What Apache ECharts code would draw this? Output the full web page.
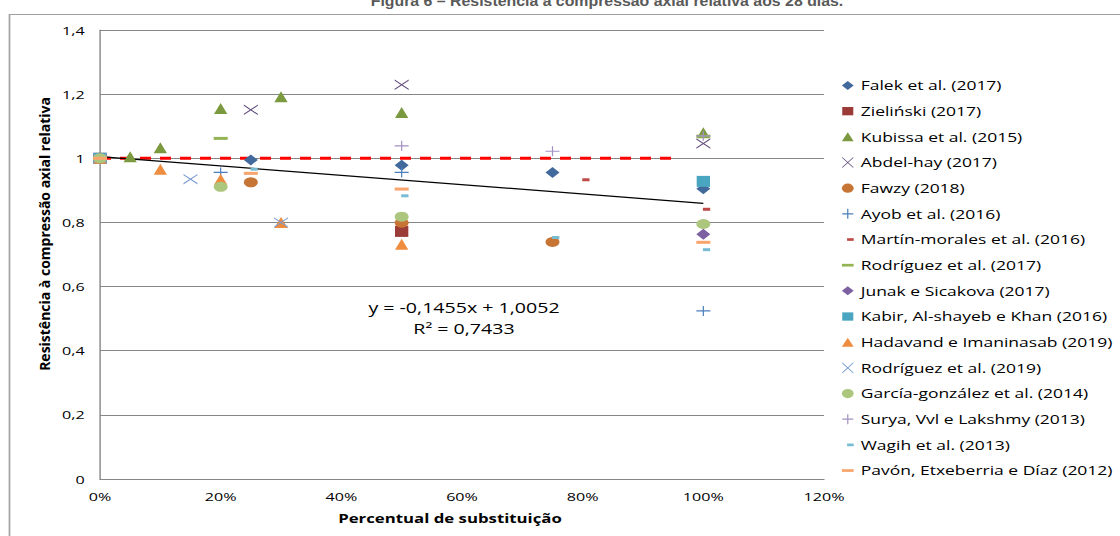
<!DOCTYPE html>
<html>
<head>
<meta charset="utf-8">
<script src="https://cdn.jsdelivr.net/npm/echarts@6/dist/echarts.min.js"></script>
<style>
html,body{margin:0;padding:0;background:#fff;overflow:hidden;width:1120px;height:536px;}
#chart{width:800px;height:536px;transform:scaleX(1.4);transform-origin:0 0;}
</style>
</head>
<body>
<div id="chart"></div>
<script>
// ---- Data (x = fraction of substitution, y = relative axial compressive strength) ----
const xTicks = [0, 0.2, 0.4, 0.6, 0.8, 1.0, 1.2];
const yTicks = [0, 0.2, 0.4, 0.6, 0.8, 1.0, 1.2, 1.4];

const falek      = [[0,1.0],[0.25,0.995],[0.5,0.978],[0.75,0.956],[1.0,0.905]];
const zielinski  = [[0,1.0],[0.5,0.772]];
const kubissa    = [[0,1.0],[0.05,1.005],[0.10,1.033],[0.20,1.155],[0.30,1.192],[0.5,1.143],[1.0,1.08]];
const abdelhay   = [[0,1.0],[0.25,1.151],[0.5,1.229],[1.0,1.046]];
const fawzy      = [[0,1.0],[0.25,0.925],[0.5,0.799],[0.75,0.739]];
const ayob       = [[0,1.0],[0.20,0.956],[0.5,0.956],[1.0,0.524]];
const martin     = [[0,1.0],[0.80,0.933],[1.0,0.841]];
const rodriguez17= [[0,1.0],[0.20,1.062],[1.0,1.069]];
const junak      = [[0,1.0],[1.0,0.763]];
const kabir      = [[0,1.0],[1.0,0.928]];
const hadavand   = [[0,1.0],[0.10,0.966],[0.20,0.935],[0.30,0.80],[0.5,0.732]];
const rodriguez19= [[0,1.0],[0.15,0.935],[0.30,0.80]];
const garcia     = [[0,1.0],[0.20,0.911],[0.5,0.818],[1.0,0.795]];
const surya      = [[0.5,1.039],[0.75,1.022],[1.0,1.07]];
const wagih      = [[0.25,0.966],[0.5,0.883],[0.75,0.753],[1.0,0.715]];
const pavon      = [[0,1.0],[0.25,0.953],[0.5,0.904],[1.0,0.738]];

const trendLine  = [[0,1.0052],[1.0,0.8597]];
const refLine    = [[0,1.0],[0.947,1.0]];

const seriesNames = [
  'Falek et al. (2017)','Zieliński (2017)','Kubissa et al. (2015)','Abdel-hay (2017)',
  'Fawzy (2018)','Ayob et al. (2016)','Martín-morales et al. (2016)','Rodríguez et al. (2017)',
  'Junak e Sicakova (2017)','Kabir, Al-shayeb e Khan (2016)','Hadavand e Imaninasab (2019)',
  'Rodríguez et al. (2019)','García-gonzález et al. (2014)','Surya, Vvl e Lakshmy (2013)',
  'Wagih et al. (2013)','Pavón, Etxeberria e Díaz (2012)'
];
const seriesData = [falek,zielinski,kubissa,abdelhay,fawzy,ayob,martin,rodriguez17,junak,kabir,hadavand,rodriguez19,garcia,surya,wagih,pavon];

// ---- Styles (chart is drawn in an 800px-wide space, then stretched 1.4x horizontally like the reference) ----
const colors = ['#41699B','#9B3B38','#7B9A3F','#604A7B','#C77535','#4A7EBB','#BE4B48','#94B454',
                '#7D60A0','#4AA5C0','#EE8C3F','#7E9ED3','#ADC67E','#A290C2','#78BCD4','#F8A46C'];
const kinds  = ['diamond','square','triangle','x','circle','plus','sdash','ldash',
                'diamond','square','triangle','x','circle','plus','sdash','ldash'];

const chartSym = {
  diamond: {symbol:'diamond', size:[10,11]},
  square:  {symbol:'rect', size:[9.5,11]},
  triangle:{symbol:'triangle', size:[9.5,11]},
  x:       {symbol:'path://M0,0L10,8.8L10,10L0,1.2Z M10,0L10,1.2L0,10L0,8.8Z', size:[10,10.5]},
  circle:  {symbol:'circle', size:10},
  plus:    {symbol:'path://M0,4.4H10V5.6H0Z M4.57,0H5.43V10H4.57Z', size:[10,10]},
  sdash:   {symbol:'rect', size:[5.2,3], offset:[2.3,0]},
  ldash:   {symbol:'rect', size:[10,3]}
};
const legendIcon = {
  diamond: 'path://M0,0M8.5,14M0.05,7L4.25,2.5L8.45,7L4.25,11.5Z',
  square:  'path://M0,0M8.5,14M0.3,2.85H8.2V11.15H0.3Z',
  triangle:'path://M0,0M8.5,14M4.25,2.5L8.45,11.5H0.05Z',
  x:       'path://M0,0M8.5,14M0.3,1.4L8.2,11.4L8.2,12.6L0.3,2.6Z M8.2,1.4L8.2,2.6L0.3,12.6L0.3,11.4Z',
  circle:  'path://M0,0M8.5,14M0.05,7A4.2,4.65 0 1 1 8.45,7A4.2,4.65 0 1 1 0.05,7Z',
  plus:    'path://M0,0M8.5,14M0.3,6.4H8.2V7.6H0.3Z M3.82,2H4.68V12H3.82Z',
  sdash:   'path://M0,0M8.5,14M3.75,5.65H8.5V8.35H3.75Z',
  ldash:   'path://M0,0M8.5,14M0.05,5.65H8.45V8.35H0.05Z'
};

const S = 1.4;
const FONT = 'Open Sans';
const series = [
  {type:'line', name:'ref', data:refLine, symbol:'none', silent:true, z:1,
   lineStyle:{color:'#FF0000', width:3, type:[11/S, 9/S]}},
  {type:'line', name:'trend', data:trendLine, symbol:'none', silent:true, z:1,
   lineStyle:{color:'#000000', width:1.2}}
];
seriesNames.forEach((n,i)=>{
  const s = chartSym[kinds[i]];
  series.push({
    type:'scatter', name:n, data:seriesData[i], z:2,
    symbol:s.symbol, symbolSize:s.size, symbolOffset:s.offset || [0,0],
    itemStyle:{color:colors[i], opacity:1}
  });
});

const chart = echarts.init(document.getElementById('chart'), null, {renderer:'svg'});
chart.setOption({
  animation:false,
  backgroundColor:'#fff',
  grid:{left:100/S, right:800-824/S, top:30, bottom:57, containLabel:false},
  xAxis:{
    type:'value', min:xTicks[0], max:xTicks[xTicks.length-1], interval:0.2,
    axisLine:{show:true, onZero:false, lineStyle:{color:'#868686', width:1}},
    axisTick:{show:false},
    splitLine:{show:false},
    axisLabel:{color:'#000', fontFamily:FONT, fontSize:11.5, margin:11,
      formatter:v=>Math.round(v*100)+'%'}
  },
  yAxis:{
    type:'value', min:yTicks[0], max:yTicks[yTicks.length-1], interval:0.2,
    axisLine:{show:true, lineStyle:{color:'#868686', width:1}},
    axisTick:{show:false},
    splitLine:{show:true, lineStyle:{color:'#868686', width:1}},
    axisLabel:{color:'#000', fontFamily:FONT, fontSize:11.5, margin:11,
      formatter:v=>String(Math.round(v*10)/10).replace('.',',')}
  },
  legend:{
    orient:'vertical', left:596.3, top:73.5, itemWidth:8.5, itemHeight:14, itemGap:11.67,
    textStyle:{fontFamily:FONT, fontSize:12.5, color:'#000', lineHeight:14},
    data: seriesNames.map((n,i)=>({name:n, icon:legendIcon[kinds[i]], itemStyle:{color:colors[i]}})),
    selectedMode:false
  },
  series:series,
  graphic:[
    {type:'rect', silent:true, z:-1, shape:{x:9.5/S, y:14.5, width:1000, height:700},
     style:{fill:'none', stroke:'#A0A0A0', lineWidth:1.2}},
    {type:'text', silent:true, x:607/S, y:8, scaleX:0.81, style:{text:'Figura 6 – Resistência à compressão axial relativa aos 28 dias.',
      font:'bold 14px "Liberation Sans", Arial, sans-serif', fill:'#595959', align:'center', verticalAlign:'bottom'}},
    {type:'text', silent:true, x:464/S, y:308, style:{text:'y = -0,1455x + 1,0052',
      font:'14px "Open Sans"', fill:'#000', align:'center', verticalAlign:'middle'}},
    {type:'text', silent:true, x:464/S, y:329, style:{text:'R² = 0,7433',
      font:'14px "Open Sans"', fill:'#000', align:'center', verticalAlign:'middle'}},
    {type:'text', silent:true, x:450/S, y:518, style:{text:'Percentual de substituição',
      font:'bold 12px "Open Sans"', fill:'#000', align:'center', verticalAlign:'middle'}},
    {type:'text', silent:true, x:45/S, y:234, rotation:Math.PI/2, scaleY:1/S, style:{text:'Resistência à compressão axial relativa',
      font:'bold 14px "Open Sans"', fill:'#000', align:'center', verticalAlign:'middle'}}
  ]
});
</script>
</body>
</html>
